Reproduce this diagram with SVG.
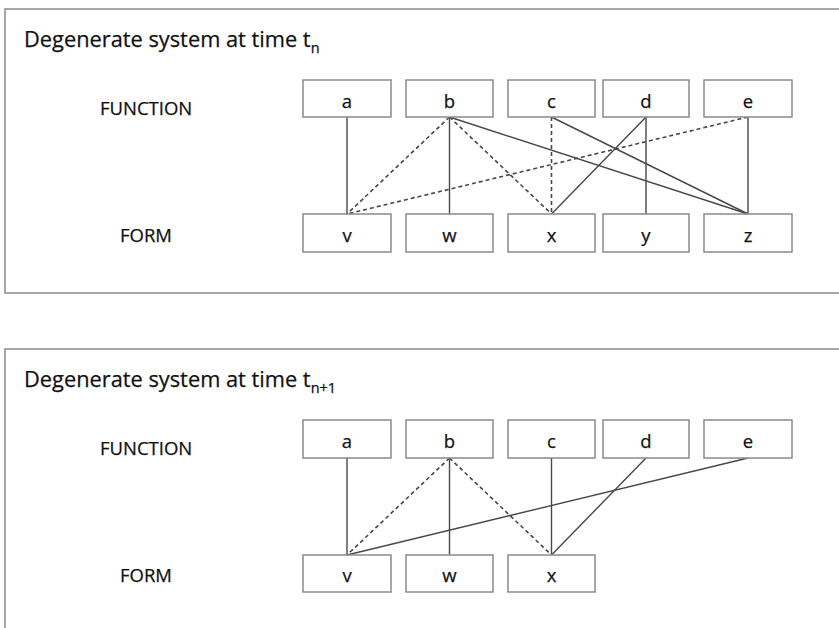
<svg xmlns="http://www.w3.org/2000/svg" width="839" height="628" viewBox="0 0 839 628">
  <style>
    .panel { fill: #ffffff; stroke: #8a8a8a; stroke-width: 1.5; }
    .box { fill: #ffffff; stroke: #8a8a8a; stroke-width: 1.5; }
    .txt { font-family: "Open Sans", "Liberation Sans", sans-serif; font-size: 18.5px; fill: #111111; stroke: #111111; stroke-width: 0.25; }
    .title { font-size: 21.8px; }
    .lbl { text-anchor: middle; }
    .sub { font-size: 14.5px; }
    .solid { stroke: #484848; stroke-width: 1.4; fill: none; }
    .dash { stroke: #484848; stroke-width: 1.6; fill: none; stroke-dasharray: 4 3; }
  </style>
  <rect width="839" height="628" fill="#ffffff"/>

  <!-- Panel 1: system at time t_n -->
  <g id="panel-tn">
    <rect class="panel" x="5" y="9" width="850" height="284"/>
    <text class="txt title" x="24" y="47">Degenerate system at time t<tspan class="sub" dy="6">n</tspan></text>
    <text class="txt" x="100" y="115">FUNCTION</text>
    <text class="txt" x="120" y="242">FORM</text>
  </g>

  <g id="connectors-tn">
    <line class="solid" x1="347" y1="117" x2="347" y2="214"/>
    <line class="dash" x1="449.5" y1="117" x2="347" y2="214"/>
    <line class="dash" x1="748" y1="117" x2="347" y2="214"/>
    <line class="solid" x1="449.5" y1="117" x2="449.5" y2="214"/>
    <line class="dash" x1="449.5" y1="117" x2="551.5" y2="214"/>
    <line class="solid" x1="449.5" y1="117" x2="748" y2="214"/>
    <line class="dash" x1="551.5" y1="117" x2="551.5" y2="214"/>
    <line class="solid" x1="551.5" y1="117" x2="748" y2="214"/>
    <line class="solid" x1="646" y1="117" x2="551.5" y2="214"/>
    <line class="solid" x1="646" y1="117" x2="646" y2="214"/>
    <line class="solid" x1="748" y1="117" x2="748" y2="214"/>
  </g>

  <g id="tn-a"><rect class="box" x="303" y="80" width="88" height="37"/><text class="txt lbl" x="347" y="108">a</text></g>
  <g id="tn-b"><rect class="box" x="406" y="80" width="87" height="37"/><text class="txt lbl" x="449.5" y="108">b</text></g>
  <g id="tn-c"><rect class="box" x="508" y="80" width="87" height="37"/><text class="txt lbl" x="551.5" y="108">c</text></g>
  <g id="tn-d"><rect class="box" x="603" y="80" width="86" height="37"/><text class="txt lbl" x="646" y="108">d</text></g>
  <g id="tn-e"><rect class="box" x="704" y="80" width="88" height="37"/><text class="txt lbl" x="748" y="108">e</text></g>
  <g id="tn-v"><rect class="box" x="303" y="214" width="88" height="38"/><text class="txt lbl" x="347" y="242">v</text></g>
  <g id="tn-w"><rect class="box" x="406" y="214" width="87" height="38"/><text class="txt lbl" x="449.5" y="242">w</text></g>
  <g id="tn-x"><rect class="box" x="508" y="214" width="87" height="38"/><text class="txt lbl" x="551.5" y="242">x</text></g>
  <g id="tn-y"><rect class="box" x="603" y="214" width="86" height="38"/><text class="txt lbl" x="646" y="242">y</text></g>
  <g id="tn-z"><rect class="box" x="704" y="214" width="88" height="38"/><text class="txt lbl" x="748" y="242">z</text></g>

  <!-- Panel 2: system at time t_n+1 -->
  <g id="panel-tn1">
    <rect class="panel" x="5" y="349" width="850" height="300"/>
    <text class="txt title" x="24" y="387">Degenerate system at time t<tspan class="sub" dy="6">n+1</tspan></text>
    <text class="txt" x="100" y="455">FUNCTION</text>
    <text class="txt" x="120" y="582">FORM</text>
  </g>

  <g id="connectors-tn1">
    <line class="solid" x1="347" y1="458" x2="347" y2="555"/>
    <line class="dash" x1="449.5" y1="458" x2="347" y2="555"/>
    <line class="solid" x1="449.5" y1="458" x2="449.5" y2="555"/>
    <line class="dash" x1="449.5" y1="458" x2="551.5" y2="555"/>
    <line class="solid" x1="551.5" y1="458" x2="551.5" y2="555"/>
    <line class="solid" x1="646" y1="458" x2="551.5" y2="555"/>
    <line class="solid" x1="748" y1="458" x2="347" y2="555"/>
  </g>

  <g id="tn1-a"><rect class="box" x="303" y="420" width="88" height="38"/><text class="txt lbl" x="347" y="448">a</text></g>
  <g id="tn1-b"><rect class="box" x="406" y="420" width="87" height="38"/><text class="txt lbl" x="449.5" y="448">b</text></g>
  <g id="tn1-c"><rect class="box" x="508" y="420" width="87" height="38"/><text class="txt lbl" x="551.5" y="448">c</text></g>
  <g id="tn1-d"><rect class="box" x="603" y="420" width="86" height="38"/><text class="txt lbl" x="646" y="448">d</text></g>
  <g id="tn1-e"><rect class="box" x="704" y="420" width="88" height="38"/><text class="txt lbl" x="748" y="448">e</text></g>
  <g id="tn1-v"><rect class="box" x="303" y="555" width="88" height="37"/><text class="txt lbl" x="347" y="582">v</text></g>
  <g id="tn1-w"><rect class="box" x="406" y="555" width="87" height="37"/><text class="txt lbl" x="449.5" y="582">w</text></g>
  <g id="tn1-x"><rect class="box" x="508" y="555" width="87" height="37"/><text class="txt lbl" x="551.5" y="582">x</text></g>
</svg>
